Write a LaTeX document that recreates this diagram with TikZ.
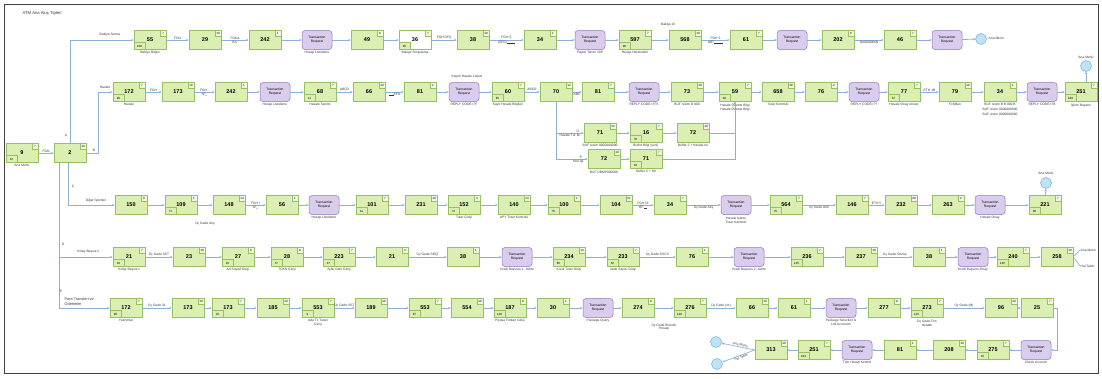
\documentclass[tikz,border=0pt]{standalone}
\usepackage{fontspec}
\setmainfont{Liberation Sans}
\usetikzlibrary{arrows.meta,calc}

\definecolor{gfill}{HTML}{DCEFB2}
\definecolor{gline}{HTML}{97BF63}
\definecolor{pfill}{HTML}{D9CCEC}
\definecolor{pline}{HTML}{8E76B8}
\definecolor{flowc}{HTML}{8DB0D6}
\definecolor{cfill}{HTML}{BFE3F6}
\definecolor{cline}{HTML}{6FAFD8}
\definecolor{txt}{HTML}{333333}

\tikzset{
  box/.style={draw=gline, fill=gfill, minimum width=32pt, minimum height=19pt, inner sep=0pt,
    font=\fontsize{5.5}{6}\selectfont\bfseries, line width=0.5pt},
  wbox/.style={box, fill=white},
  tbox/.style={draw=pline, fill=pfill, rounded corners=3pt, minimum width=30pt, minimum height=19pt,
    inner sep=0pt, align=center, font=\fontsize{3.3}{3.9}\selectfont, line width=0.5pt},
  cnr/.style={draw=gline, fill=white!60!gfill, minimum width=6pt, minimum height=6pt, inner sep=0pt,
    font=\fontsize{3}{3}\selectfont},
  blbox/.style={draw=gline, fill=gfill, minimum width=11pt, minimum height=7pt, inner sep=0pt,
    font=\fontsize{3}{3}\selectfont},
  lbl/.style={inner sep=0.5pt, font=\fontsize{3.3}{3.9}\selectfont, align=center, text=txt},
  rowlbl/.style={inner sep=0.5pt, font=\fontsize{3.8}{4.4}\selectfont, align=left, text=txt},
  flow/.style={draw=flowc, line width=0.7pt, -{Stealth[length=2.6pt,width=2.4pt]}},
  plain/.style={draw=flowc, line width=0.7pt},
  endc/.style={circle, draw=cline, fill=cfill, minimum size=11pt, inner sep=0pt, line width=0.5pt},
}

% green step box: [style]{name}{position}{number}{corner}{lower-left}{caption}
\newcommand\gbx[7][box]{%
  \node[#1] (#2) at (#3) {#4};
  \node[cnr, anchor=north east] (#2c) at (#2.north east) {#5};
  \if\relax\detokenize{#6}\relax\else
    \node[blbox, anchor=south west] (#2b) at (#2.south west) {#6};\fi
  \if\relax\detokenize{#7}\relax\else
    \node[lbl, anchor=north] (#2l) at ([yshift=-1pt]#2.south) {#7};\fi
}
% purple transaction box: {name}{position}{caption}
\newcommand\tbx[3]{%
  \node[tbox] (#1) at (#2) {Transaction\\Request};
  \if\relax\detokenize{#3}\relax\else
    \node[lbl, anchor=north] (#1l) at ([yshift=-1pt]#1.south) {#3};\fi
}

\begin{document}
\begin{tikzpicture}[x=1pt,y=-1pt]
\useasboundingbox (0,0) rectangle (1102,378);
\draw[line width=0.6pt, black!75] (4,4) rectangle (1098,373);
\node[font=\fontsize{4.2}{5}\selectfont, anchor=west, text=txt] (title) at (19,13) {ATM Ana Akış Tipleri};

% ---------- start ----------
\gbx{r0a}{22,153}{9}{7}{12}{Ana Menü}
\gbx{r0b}{70,153}{2}{10}{}{}
\draw[flow] (r0a) -- node[lbl, above] (t0a) {FGN} (r0b);

% ---------- row 1 : Bakiye Sorma ----------
\gbx{r1a}{150,40}{55}{7}{168}{Bakiye Bilgisi}
\gbx{r1b}{205,40}{29}{10}{}{}
\gbx{r1c}{265,40}{242}{1}{}{}
\tbx{r1d}{317,40}{Hesap Listeleme}
\gbx{r1e}{367,40}{49}{8}{}{}
\gbx[wbox]{r1f}{415,40}{36}{7}{95}{Bakiye Sorgulama}
\gbx{r1g}{473,40}{38}{10}{}{}
\gbx{r1h}{540,40}{34}{1}{}{}
\tbx{r1i}{590,40}{Rapor Tanım 199}
\gbx{r1j}{635,40}{597}{7}{98}{Hesap Hareketleri}
\node[lbl] (r1x) at (668,25) {Bakiye Al};
\gbx{r1k}{685,40}{568}{10}{}{}
\gbx{r1l}{746,40}{61}{7}{}{}
\tbx{r1m}{792,40}{}
\gbx{r1n}{838,40}{202}{8}{}{}
\gbx{r1o}{900,40}{46}{7}{}{}
\tbx{r1p}{947,40}{}
\node[endc] (e1) at (981,39) {};
\node[lbl, anchor=west] (e1l) at (988,38) {Ana Menü};

\draw[flow] (r0b.north) |- (r1a.west);
\node[lbl, anchor=south] (h1) at (110,37) {Bakiye Sorma};
\node[lbl] (ka) at (66,135) {A};
\draw[flow] (r1a) -- node[lbl, above] (t1a) {FGN} (r1b);
\draw[flow] (r1b) -- node[lbl, above] (t1b) {FGKA} node[lbl, below] (t1c) {EA.} (r1c);
\draw[flow] (r1c) -- (r1d);
\draw[flow] (r1d) -- (r1e);
\draw[flow] (r1e) -- (r1f);
\draw[flow] (r1f) -- node[lbl, above] (t1d) {FGH DFŞ} (r1g);
\draw[flow] (r1g) -- node[lbl, above] (t1e) {FGH Ş} node[lbl, below] (t1f) {(DFG)\rule[-0.3pt]{8pt}{0.2pt}} (r1h);
\draw[flow] (r1h) -- (r1i);
\draw[flow] (r1i) -- (r1j);
\draw[flow] (r1j) -- (r1k);
\draw[flow] (r1k) -- node[lbl, above] (t1g) {FGH 5} node[lbl, below] (t1h) {ABT\rule[-0.3pt]{9pt}{0.2pt}} (r1l);
\draw[flow] (r1l) -- (r1m);
\draw[flow] (r1m) -- (r1n);
\draw[flow] (r1n) -- node[lbl, below] (t1i) {0000000000} (r1o);
\draw[flow] (r1o) -- (r1p);
\draw[flow] (r1p) -- (e1);

% ---------- row 2 : Havale ----------
\gbx{r2a}{129,92}{172}{7}{96}{Havale}
\gbx{r2b}{178,92}{173}{10}{}{}
\gbx{r2c}{231,92}{242}{1}{}{}
\tbx{r2d}{275,92}{Hesap Listeleme}
\gbx{r2e}{320,92}{68}{7}{11}{Havale Tanımı}
\gbx{r2f}{369,92}{66}{10}{}{}
\gbx{r2g}{420,92}{81}{1}{}{}
\tbx{r2h}{464,92}{REPLY CODE=?F}
\node[lbl] (r2x) at (467,77) {Kayıtlı Havale Listesi};
\gbx{r2i}{508,92}{60}{7}{65}{Kayıt Havale Bilgileri}
\gbx{r2j}{556,92}{70}{12}{}{}
\gbx{r2k}{598,92}{81}{7}{}{}
\tbx{r2l}{644,92}{REPLY CODE=?FS}
\gbx{r2m}{687,92}{73}{10}{}{BUF resim D 000}
\gbx{r2n}{735,92}{59}{7}{84}{Havale Ödeme Bilgi\\Havale Ödeme Bilgi}
\gbx{r2o}{778,92}{658}{38}{}{Tutar Kontrolü}
\gbx{r2p}{821,92}{76}{2}{}{}
\tbx{r2q}{864,92}{REPLY CODE=??}
\gbx{r2r}{904,92}{77}{7}{37}{Havale Onay ekranı}
\gbx{r2s}{955,92}{79}{10}{}{FxŞBan}
\gbx{r2t}{1000,92}{34}{1}{}{BUF resim B B 000 B\\[1pt]BUF resim 0000000000\\[1pt]BUF resim 0000000000}
\tbx{r2u}{1042,92}{REPLY CODE=?B}
\gbx{r2v}{1081,92}{251}{7}{108}{İşlem Başarılı}
\node[endc] (e2) at (1086,66) {};
\node[lbl, anchor=south] (e2l) at (1086,59) {Ana Menü};

\draw[flow] (r0b.east) -- ++(12,0) |- (r2a.west);
\node[lbl, anchor=south] (kb) at (94,152) {B};
\node[lbl, anchor=south] (h2) at (105,89) {Havale};
\draw[flow] (r2a) -- node[lbl, above] (t2a) {FGH} (r2b);
\draw[flow] (r2b) -- node[lbl, above] (t2b) {FGH :} node[lbl, below] (t2c) {SF\textsubscript{e}} (r2c);
\draw[flow] (r2c) -- (r2d);
\draw[flow] (r2d) -- (r2e);
\draw[flow] (r2e) -- node[lbl, above] (t2d) {ABÇD} (r2f);
\draw[flow] (r2f) -- node[lbl, below] (t2e) {\rule[-0.3pt]{5pt}{0.2pt}AFG} (r2g);
\draw[flow] (r2g) -- (r2h);
\draw[flow] (r2h) -- (r2i);
\draw[flow] (r2i) -- node[lbl, above] (t2f) {ABÇD} (r2j);
\draw[flow] (r2j) -- node[lbl, below] (t2g) {ABC} (r2k);
\draw[flow] (r2k) -- (r2l);
\draw[flow] (r2l) -- (r2m);
\draw[flow] (r2m) -- (r2n);
\draw[flow] (r2n) -- (r2o);
\draw[flow] (r2o) -- (r2p);
\draw[flow] (r2p) -- (r2q);
\draw[flow] (r2q) -- (r2r);
\draw[flow] (r2r) -- node[lbl, above] (t2h) {ETH 1B} (r2s);
\draw[flow] (r2s) -- (r2t);
\draw[flow] (r2t) -- (r2u);
\draw[flow] (r2u) -- (r2v);
\draw[flow] (r2v.north -| e2) -- (e2);

% branches below node 70
\gbx{ba1}{600,133}{71}{12}{}{BUF resim 0000000000}
\gbx{ba2}{646,133}{16}{7}{78}{Buffer Bilgi (yeni)}
\gbx{ba3}{693,133}{72}{10}{}{Buffer 2 + Havale no}
\gbx{bb1}{604,159}{72}{10}{}{BUF ÜBMP000000}
\gbx{bb2}{646,159}{71}{7}{24}{Buffer C + 89}
\draw[flow] (r2j.south) |- (ba1.west);
\draw[flow] (r2j.south) |- (bb1.west);
\node[lbl, anchor=south east] (ta1) at ([xshift=-4pt]ba1.west) {Ü};
\node[lbl, anchor=north east] (ta2) at ([xshift=-3pt]ba1.west) {Havale Tür ile};
\node[lbl, anchor=south east] (tb1) at ([xshift=-5pt]bb1.west) {P};
\node[lbl, anchor=north east] (tb2) at ([xshift=-3pt]bb1.west) {Yeni İşl.};
\draw[flow] (ba1) -- (ba2);
\draw[flow] (ba2) -- (ba3);
\draw[flow] (bb1) -- (bb2);
\draw[flow] (ba3.east) -| (r2n.south);
\draw[flow] (bb2.east) -| (r2n.south);

% ---------- row 3 : Diğer İşlemler ----------
\gbx{r3a}{131,205}{150}{8}{}{}
\gbx{r3b}{181,205}{109}{1}{71}{}
\node[lbl] (r3x) at (205,223) {Üç Gede Alış};
\gbx{r3c}{229,205}{148}{14}{}{}
\gbx{r3d}{282,205}{56}{1}{}{}
\tbx{r3e}{324,205}{Hesap Listeleme}
\gbx{r3f}{372,205}{101}{7}{1a}{}
\gbx{r3g}{421,205}{231}{10}{}{}
\gbx{r3h}{464,205}{152}{4}{72}{Tutar Girişi}
\gbx{r3i}{514,205}{140}{14}{}{APY Tutar Kontrolü}
\gbx{r3j}{564,205}{100}{1}{76}{}
\gbx{r3k}{616,205}{104}{21}{}{}
\gbx{r3l}{670,205}{34}{7}{}{}
\tbx{r3m}{736,205}{Havale İşlemi\\Tutar Kontrolü}
\gbx{r3n}{786,205}{564}{7}{76}{}
\gbx{r3o}{852,205}{146}{7}{}{}
\gbx{r3p}{901,205}{232}{28}{}{}
\gbx{r3q}{948,205}{263}{2}{}{}
\tbx{r3r}{990,205}{Havale Onay}
\gbx{r3s}{1045,205}{221}{7}{98}{}
\node[endc] (e3) at (1046,183) {};
\node[lbl, anchor=south] (e3l) at (1046,175) {Ana Menü};

\draw[flow] ([xshift=-2pt]r0b.south) |- (r3a.west);
\node[lbl] (kc) at (73,186) {C};
\node[lbl, anchor=south] (h3) at (96,203) {Diğer İşlemler};
\draw[flow] (r3a) -- (r3b);
\draw[flow] (r3b) -- (r3c);
\draw[flow] (r3c) -- node[lbl, above] (t3a) {FGH I} node[lbl, below] (t3b) {SF\textsubscript{e}} (r3d);
\draw[flow] (r3d) -- (r3e);
\draw[flow] (r3e) -- (r3f);
\draw[flow] (r3f) -- (r3g);
\draw[flow] (r3g) -- (r3h);
\draw[flow] (r3h) -- (r3i);
\draw[flow] (r3i) -- (r3j);
\draw[flow] (r3j) -- (r3k);
\draw[flow] (r3k) -- node[lbl, above] (t3c) {FGH Dİ} node[lbl, below] (t3d) {BF\rule[-0.3pt]{3pt}{0.2pt}} (r3l);
\draw[flow] (r3l) -- node[lbl, below] (t3e) {Üç Gede Alış} (r3m);
\draw[flow] (r3m) -- (r3n);
\draw[flow] (r3n) -- node[lbl, below] (t3f) {Üç Gede Anti} (r3o);
\draw[flow] (r3o) -- node[lbl, above] (t3g) {ETH 5} (r3p);
\draw[flow] (r3p) -- (r3q);
\draw[flow] (r3q) -- (r3r);
\draw[flow] (r3r) -- (r3s);
\draw[flow] (r3s) -- (e3);

% ---------- row 4 : Kolay Başvuru ----------
\gbx{r4a}{129,257}{21}{7}{10}{Kolay Başvuru}
\gbx{r4b}{189,257}{23}{10}{}{}
\gbx{r4c}{238,257}{27}{8}{18}{Ad Soyad Girişi}
\gbx{r4d}{287,257}{28}{8}{37}{TCKN Girişi}
\gbx{r4e}{339,257}{223}{7}{47}{Aylık Gelir Girişi}
\gbx{r4f}{392,257}{21}{3}{}{}
\gbx{r4g}{463,257}{38}{1}{}{}
\tbx{r4h}{517,257}{Kredi Başvuru 1. Adım}
\gbx{r4i}{569,257}{234}{14}{85}{Kredi Tutar Girişi}
\gbx{r4j}{623,257}{233}{7}{62}{Vade Sayısı Girişi}
\gbx{r4k}{692,257}{76}{1}{}{}
\tbx{r4l}{749,257}{Kredi Başvuru 2. Adım}
\gbx{r4m}{807,257}{236}{7}{135}{}
\gbx{r4n}{861,257}{237}{10}{}{}
\gbx{r4o}{929,257}{38}{1}{}{}
\tbx{r4p}{973,257}{Kredi Başvuru Onay}
\gbx{r4q}{1013,257}{240}{7}{140}{}
\gbx{r4r}{1057,257}{258}{10}{}{}
\coordinate (e4a) at (1080,250);
\coordinate (e4b) at (1080,266);
\node[lbl, anchor=west] (e4al) at (e4a) {Ana Menü};
\node[lbl, anchor=west] (e4bl) at (e4b) {Hal Tablo};

\draw[flow] ([xshift=-11pt]r0b.south) |- (r4a.west);
\node[lbl] (kd) at (63,244) {D};
\node[lbl, anchor=south] (h4) at (88,254) {Kolay Başvuru};
\draw[flow] (r4a) -- node[lbl, above] (t4a) {Üç Gede SST} (r4b);
\draw[flow] (r4b) -- (r4c);
\draw[flow] (r4c) -- (r4d);
\draw[flow] (r4d) -- (r4e);
\draw[flow] (r4e) -- (r4f);
\draw[flow] (r4f) -- node[lbl, above] (t4b) {Üç Gede SEÇİ} (r4g);
\draw[flow] (r4g) -- (r4h);
\draw[flow] (r4h) -- (r4i);
\draw[flow] (r4i) -- (r4j);
\draw[flow] (r4j) -- node[lbl, above] (t4c) {Üç Gede SSCS} (r4k);
\draw[flow] (r4k) -- (r4l);
\draw[flow] (r4l) -- (r4m);
\draw[flow] (r4m) -- (r4n);
\draw[flow] (r4n) -- node[lbl, above] (t4d) {Üç Gede Gönüş} (r4o);
\draw[flow] (r4o) -- (r4p);
\draw[flow] (r4p) -- (r4q);
\draw[flow] (r4q) -- (r4r);
\draw[plain] (r4r.east) -- (e4a);
\draw[plain] (r4r.east) -- (e4b);

% ---------- row 5 : Para Transferi ve Ödemeler ----------
\gbx{r5a}{126,308}{172}{7}{98}{Yatırımlar}
\gbx{r5b}{188,308}{173}{10}{}{}
\gbx{r5c}{228,308}{173}{7}{18}{}
\gbx{r5d}{273,308}{185}{10}{}{}
\gbx{r5e}{318,308}{553}{7}{9}{Ada Tx Tutarı\\Girişi}
\gbx{r5f}{371,308}{189}{10}{}{}
\gbx{r5g}{425,308}{553}{7}{87}{}
\gbx{r5h}{467,308}{554}{10}{}{}
\gbx{r5i}{510,308}{187}{8}{148}{Piyasa Fonları Girişi}
\gbx{r5j}{553,308}{30}{1}{}{}
\tbx{r5k}{598,308}{Package Query}
\gbx{r5l}{638,308}{274}{8}{}{}
\node[lbl] (r5x) at (664,327) {Üç Gede Bulunlu\\Hesap};
\gbx{r5m}{690,308}{276}{7}{148}{}
\gbx{r5n}{752,308}{66}{10}{}{}
\gbx{r5o}{794,308}{61}{1}{}{}
\tbx{r5p}{841,308}{Package Selection \&\\List Accounts}
\gbx{r5q}{884,308}{277}{8}{}{}
\gbx{r5r}{927,308}{273}{7}{145}{Üç Gede Fon\\Hesabı}
\gbx{r5s}{1001,308}{96}{10}{}{}
\gbx{r5t}{1037,308}{25}{7}{}{}

\draw[flow] ([xshift=-11pt]r0b.south) |- (r5a.west);
\node[lbl] (ke) at (61,291) {E};
\node[rowlbl, anchor=south west] (h5) at (64,306) {Para Transferi ve\\Ödemeler};
\draw[flow] (r5a) -- node[lbl, above] (t5a) {Üç Gede 31} (r5b);
\draw[flow] (r5b) -- (r5c);
\draw[flow] (r5c) -- (r5d);
\draw[flow] (r5d) -- (r5e);
\draw[flow] (r5e) -- node[lbl, above] (t5b) {Üç Gede SST} (r5f);
\draw[flow] (r5f) -- (r5g);
\draw[flow] (r5g) -- (r5h);
\draw[flow] (r5h) -- (r5i);
\draw[flow] (r5i) -- (r5j);
\draw[flow] (r5j) -- (r5k);
\draw[flow] (r5k) -- (r5l);
\draw[flow] (r5l) -- (r5m);
\draw[flow] (r5m) -- node[lbl, above] (t5c) {Üç Gede (xx)} (r5n);
\draw[flow] (r5n) -- (r5o);
\draw[flow] (r5o) -- (r5p);
\draw[flow] (r5p) -- (r5q);
\draw[flow] (r5q) -- (r5r);
\draw[flow] (r5r) -- node[lbl, above] (t5d) {Üç Gede (M)} (r5s);
\draw[flow] (r5s) -- (r5t);

% ---------- row 6 : return path ----------
\tbx{r6a}{1036,350}{Check Account}
\gbx{r6b}{993,350}{275}{7}{10}{}
\gbx{r6c}{949,350}{208}{10}{}{}
\gbx{r6d}{900,350}{81}{1}{}{}
\tbx{r6e}{857,350}{Tüm Hesap Kontrol}
\gbx{r6f}{814,350}{251}{7}{184}{}
\gbx{r6g}{771,350}{313}{10}{}{}
\node[endc] (e6a) at (716,342) {};
\node[endc] (e6b) at (717,364) {};

\draw[flow] (r5t.east) -- ++(4,0) |- (r6a.east);
\draw[flow] (r6a) -- (r6b);
\draw[flow] (r6b) -- (r6c);
\draw[flow] (r6c) -- (r6d);
\draw[flow] (r6d) -- (r6e);
\draw[flow] (r6e) -- (r6f);
\draw[flow] (r6f) -- (r6g);
\draw[flow] (r6g.west) -- node[lbl, above, sloped, pos=0.45] (t6a) {Ana Menü} (e6a);
\draw[flow] (r6g.west) -- node[lbl, below, sloped, pos=0.45] (t6b) {Hal Tablo} (e6b);
\end{tikzpicture}
\end{document}
